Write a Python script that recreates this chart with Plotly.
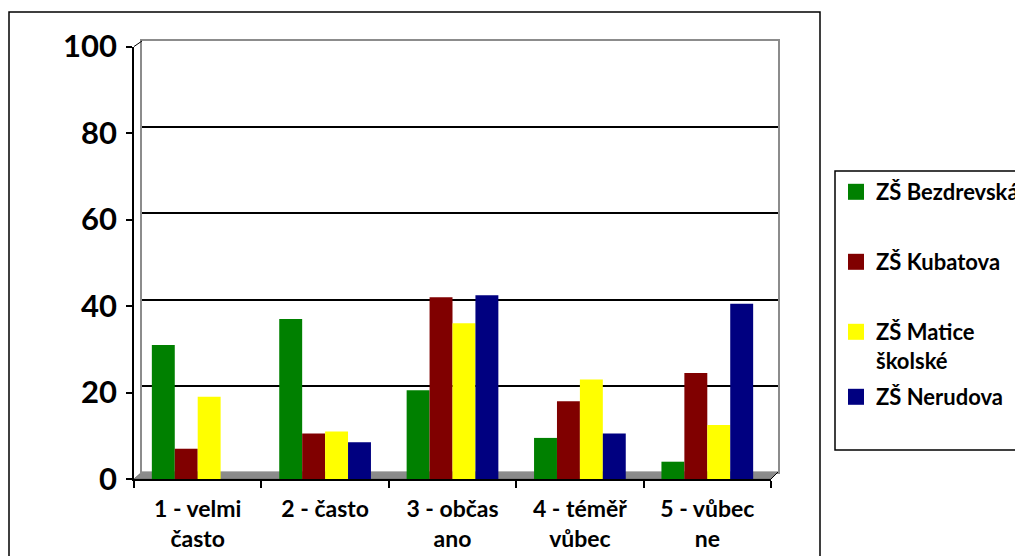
import plotly.graph_objects as go

W, H = 1023, 556
OFF = 8  # page body margin in the browser

categories = ["1 - velmi<br>často", "2 - často", "3 - občas<br>ano", "4 - téměř<br>vůbec", "5 - vůbec<br>ne"]
series_names = ["ZŠ Bezdrevská", "ZŠ Kubatova", "ZŠ Matice<br>školské", "ZŠ Nerudova"]
bezdrevska = [31, 37, 20.5, 9.5, 4]
kubatova = [7, 10.5, 42, 18, 24.5]
matice = [19, 11, 36, 23, 12.5]
nerudova = [0, 8.5, 42.5, 10.5, 40.5]
series_colors = ["#008000", "#800000", "#FFFF00", "#000080"]
y_ticks = [0, 20, 40, 60, 80, 100]
grid_ticks = [20, 40, 60, 80]

FONT = "Lato"


def px(x):
    return (x - OFF) / W


def py(y):
    return 1 - (y - OFF) / H


legend_names = ["legend", "legend2", "legend3", "legend4"]
legend_y = [192, 262, 330, 397]

fig = go.Figure()
# empty trace so the back-wall subplot is drawn
fig.add_trace(go.Scatter(x=[], y=[], xaxis="x", yaxis="y", showlegend=False, hoverinfo="skip"))
for name, vals, col in zip(series_names, [bezdrevska, kubatova, matice, nerudova], series_colors):
    fig.add_trace(go.Bar(
        x=categories, y=vals, name=name, marker=dict(color=col, line=dict(width=0)),
        xaxis="x2", yaxis="y2", showlegend=False,
    ))
# legend entries (square keys like the original)
for name, col, lg in zip(series_names, series_colors, legend_names):
    fig.add_trace(go.Scatter(
        x=[None], y=[None], name=name, mode="markers",
        marker=dict(symbol="square", size=20, color=col, line=dict(width=0)),
        xaxis="x2", yaxis="y2", legend=lg, showlegend=True, hoverinfo="skip",
    ))

legend_common = dict(xanchor="left", yanchor="middle", bgcolor="rgba(0,0,0,0)", borderwidth=0,
                     font=dict(family=FONT, size=22, color="black", weight="bold"), valign="top",
                     itemsizing="trace", itemwidth=30)
legends = {}
for lg, ly in zip(legend_names, legend_y):
    d = dict(legend_common)
    d.update(x=px(836), y=py(ly))
    if lg == "legend3":
        d.update(yanchor="top", y=py(ly - 19))
    legends[lg] = d

fig.update_layout(
    width=W, height=H,
    margin=dict(l=0, r=0, t=0, b=0, autoexpand=False),
    paper_bgcolor="white", plot_bgcolor="rgba(0,0,0,0)",
    barmode="group", bargap=0.28, bargroupgap=0,
    font=dict(family=FONT, color="black"),
    # back wall (pseudo-3D)
    xaxis=dict(domain=[px(142), px(778)], range=[0, 1], showgrid=False, zeroline=False,
               showticklabels=False, ticks="", showline=True, linecolor="#8c8c8c",
               linewidth=2, mirror=True, anchor="y", fixedrange=True),
    yaxis=dict(domain=[py(472), py(41)], range=[0, 100], tickvals=grid_ticks, showgrid=True,
               gridcolor="black", gridwidth=2, zeroline=False, showticklabels=False, ticks="",
               showline=True, linecolor="#8c8c8c", linewidth=2, mirror=True, anchor="x",
               fixedrange=True),
    # front axes
    xaxis2=dict(domain=[px(134), px(771)], type="category", anchor="y2", showgrid=False,
                showline=True, linecolor="black", linewidth=1.5, ticks="outside",
                tickson="boundaries", ticklen=7, tickcolor="black", tickwidth=1.5,
                ticklabelstandoff=9,
                tickfont=dict(family=FONT, size=23, color="black", weight="bold"),
                fixedrange=True),
    yaxis2=dict(domain=[py(479), py(46.5)], range=[0, 100], anchor="x2", tickvals=y_ticks,
                showgrid=False, zeroline=False, showline=True, linecolor="black",
                linewidth=1.5, ticks="outside", ticklen=6, tickcolor="black", tickwidth=1.5,
                ticklabelstandoff=3,
                tickfont=dict(family=FONT, size=31, color="black", weight="bold"),
                fixedrange=True),
    showlegend=True,
    **legends,
)

shapes = [
    # floor
    dict(type="path", xref="paper", yref="paper",
         path=f"M {px(134)},{py(479)} L {px(771)},{py(479)} L {px(778)},{py(472)} L {px(142)},{py(472)} Z",
         fillcolor="#8a8a8a", line=dict(color="#6e6e6e", width=1), layer="below"),
    # outer chart border
    dict(type="rect", xref="paper", yref="paper", x0=px(9), x1=px(820), y0=py(600), y1=py(12),
         line=dict(color="black", width=1.5), fillcolor="rgba(0,0,0,0)", layer="above"),
    # legend frame
    dict(type="rect", xref="paper", yref="paper", x0=px(835), x1=px(1040), y0=py(450), y1=py(171),
         line=dict(color="black", width=1.5), fillcolor="rgba(0,0,0,0)", layer="above"),
    # 3D connectors
    dict(type="line", xref="paper", yref="paper", x0=px(134), x1=px(142), y0=py(46.5), y1=py(41),
         line=dict(color="black", width=1)),
    dict(type="line", xref="paper", yref="paper", x0=px(771), x1=px(778), y0=py(479), y1=py(472),
         line=dict(color="black", width=1)),
]
fig.update_layout(shapes=shapes)

fig.write_html("out.html")
